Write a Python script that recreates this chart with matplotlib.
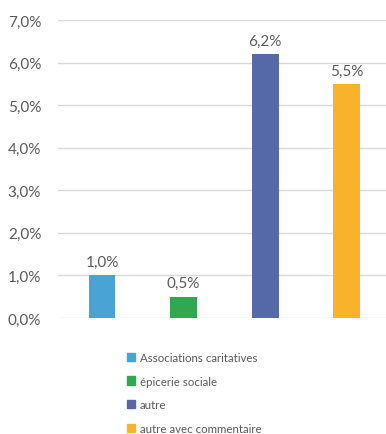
import matplotlib
matplotlib.use("Agg")
import matplotlib.pyplot as plt
from matplotlib.patches import Patch
from matplotlib.ticker import FuncFormatter

# données
categories = ["Associations caritatives", "épicerie sociale", "autre", "autre avec commentaire"]
valeurs = [1.0, 0.5, 6.2, 5.5]
couleurs = ["#49A3D5", "#31A74F", "#5568A8", "#F8B22C"]

plt.rcParams['font.family'] = ['Lato', 'DejaVu Sans']
gris = "#595959"

fig = plt.figure(figsize=(3.86, 4.35), dpi=100)
ax = fig.add_axes([0.150, 0.2667, 0.850, 0.685])

x = range(len(valeurs))
ax.bar(x, valeurs, width=0.33, color=couleurs, zorder=3)
for i, v in zip(x, valeurs):
    ax.text(i, v + 0.15, f"{v:.1f}%".replace(".", ","), ha="center", va="bottom",
            fontsize=11, color=gris)

ax.set_ylim(0, 7)
ax.set_xlim(-0.54, 3.48)
ax.set_yticks(range(0, 8))
ax.yaxis.set_major_formatter(FuncFormatter(lambda v, p: f"{v:.1f}%".replace(".", ",")))
ax.tick_params(axis="y", length=0, labelsize=11, labelcolor=gris, pad=12)
ax.set_xticks([])
ax.grid(axis="y", color="#D9D9D9", linewidth=1, zorder=0)
for s in ax.spines.values():
    s.set_visible(False)

handles = [Patch(color=c) for c in couleurs]
fig.legend(handles, categories, loc="upper left", bbox_to_anchor=(0.318, 0.200),
           frameon=False, fontsize=8.3, labelcolor=gris, handlelength=0.7,
           handleheight=0.7, handletextpad=0.4, labelspacing=1.12, borderaxespad=0)

fig.savefig("out.png", dpi=100)
